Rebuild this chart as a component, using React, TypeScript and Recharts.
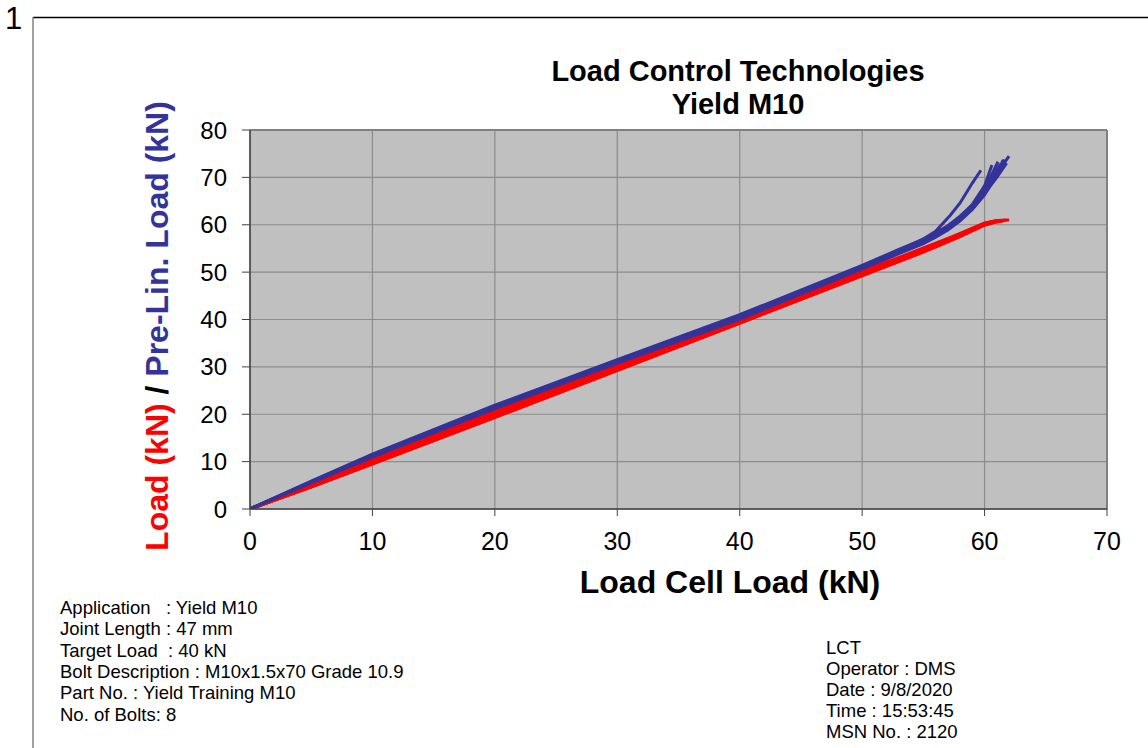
import { LineChart, Line, XAxis, YAxis, CartesianGrid, ReferenceLine, Label } from "recharts";

// load cell reading (kN) per bolt, with the measured load and the pre-linearised load
const loadCell1 = [0, 5, 10, 20, 30, 40, 50, 53, 55, 56, 57.2, 58, 59, 59.7];
const load1 = [0, 4.9, 9.9, 19.9, 29.8, 39.8, 49.8, 52.7, 54.6, 55.6, 57.0, 58.0, 59.1, 59.9];
const preLin1 = [0, 5.7, 11.3, 21.6, 31.2, 40.6, 51.2, 54.6, 57.0, 58.6, 62.0, 64.6, 68.8, 71.5];

const loadCell2 = [0, 5, 10, 20, 30, 40, 50, 53, 55, 56, 57, 58, 59, 60, 60.6];
const load2 = [0, 4.7, 9.6, 19.5, 29.4, 39.3, 49.3, 52.3, 54.4, 55.5, 56.6, 57.8, 59.0, 60.1, 60.6];
const preLin2 = [0, 5.5, 11.0, 21.3, 30.9, 40.2, 50.9, 54.3, 56.3, 57.7, 59.3, 61.4, 64.3, 68.2, 72.6];

const loadCell3 = [0, 5, 10, 20, 30, 40, 50, 53, 55, 56, 57, 58, 59, 60, 61.1];
const load3 = [0, 5.0, 10.1, 20.3, 30.1, 40.1, 50.0, 52.9, 54.9, 55.9, 56.9, 58.0, 59.1, 60.3, 60.9];
const preLin3 = [0, 5.8, 11.5, 21.8, 31.4, 40.9, 51.3, 54.6, 56.7, 58.0, 59.5, 61.5, 64.0, 67.5, 73.3];

const loadCell4 = [0, 5, 10, 20, 30, 40, 50, 53, 55, 56, 57, 58, 59, 60, 61, 61.5];
const load4 = [0, 4.6, 9.5, 19.3, 29.2, 39.2, 49.2, 52.2, 54.2, 55.3, 56.4, 57.5, 58.7, 59.9, 60.6, 60.8];
const preLin4 = [0, 5.4, 10.9, 21.1, 30.7, 39.9, 50.6, 53.9, 56.0, 57.4, 58.9, 60.8, 63.2, 66.3, 70.6, 73.6];

const loadCell5 = [0, 5, 10, 20, 30, 40, 50, 53, 55, 56, 57, 58, 59, 60, 61, 62];
const load5 = [0, 5.1, 10.3, 20.6, 30.4, 40.3, 50.2, 53.1, 55.1, 56.1, 57.1, 58.2, 59.3, 60.4, 60.9, 61.0];
const preLin5 = [0, 5.9, 11.6, 21.9, 31.5, 41.0, 51.4, 54.8, 56.9, 58.3, 59.8, 61.8, 64.2, 67.3, 70.8, 74.5];

const loadCell6 = [0, 5, 10, 20, 30, 40, 50, 53, 55, 56, 57, 58, 59, 60, 61, 61.8];
const load6 = [0, 4.8, 9.8, 19.7, 29.6, 39.6, 49.6, 52.6, 54.6, 55.6, 56.7, 57.8, 58.9, 60.1, 60.8, 61.0];
const preLin6 = [0, 5.6, 11.1, 21.4, 31.0, 40.4, 50.9, 54.3, 56.4, 57.8, 59.3, 61.2, 63.6, 66.6, 70.0, 73.0];

const loadCell7 = [0, 5, 10, 20, 30, 40, 50, 53, 55, 56, 57, 58, 59, 60, 61.3];
const load7 = [0, 4.9, 10.0, 20.0, 29.9, 39.9, 49.9, 52.8, 54.8, 55.8, 56.8, 57.9, 59.0, 60.2, 60.8];
const preLin7 = [0, 5.6, 11.2, 21.5, 31.1, 40.6, 51.1, 54.5, 56.5, 57.9, 59.5, 61.6, 64.1, 67.3, 72.8];

const loadCell8 = [0, 5, 10, 20, 30, 40, 50, 53, 55, 56, 57, 58, 59, 60, 61, 61.6];
const load8 = [0, 4.7, 9.7, 19.5, 29.5, 39.5, 49.5, 52.5, 54.5, 55.5, 56.5, 57.6, 58.8, 60.0, 60.7, 60.9];
const preLin8 = [0, 5.5, 11.0, 21.2, 30.8, 40.1, 50.7, 54.0, 56.1, 57.5, 59.1, 61.0, 63.4, 66.5, 70.4, 73.8];

const xTicks = [0, 10, 20, 30, 40, 50, 60, 70];
const yTicks = [0, 10, 20, 30, 40, 50, 60, 70, 80];

const infoLeft = [
  "Application   : Yield M10",
  "Joint Length : 47 mm",
  "Target Load  : 40 kN",
  "Bolt Description : M10x1.5x70 Grade 10.9",
  "Part No. : Yield Training M10",
  "No. of Bolts: 8",
];
const infoRight = ["LCT", "Operator : DMS", "Date : 9/8/2020", "Time : 15:53:45", "MSN No. : 2120"];

const bolts = [
  [loadCell1, load1, preLin1],
  [loadCell2, load2, preLin2],
  [loadCell3, load3, preLin3],
  [loadCell4, load4, preLin4],
  [loadCell5, load5, preLin5],
  [loadCell6, load6, preLin6],
  [loadCell7, load7, preLin7],
  [loadCell8, load8, preLin8],
];

const RED = "#ff0000";
const BLUE = "#333399";
const FONT = "'Liberation Sans', Arial, sans-serif";

const toPoints = (xs: number[], ys: number[]) => xs.map((x, i) => ({ x, y: ys[i] }));

export default function App() {
  return (
    <div style={{ position: "absolute", left: 0, top: 0, width: 1148, height: 748, background: "#fff" }}>
      <LineChart width={1148} height={748} margin={{ top: 130, right: 41, bottom: 199, left: 190 }}>
        <CartesianGrid stroke="#8c8c8c" strokeWidth={1.2} fill="#c0c0c0" fillOpacity={1} />
        <XAxis
          type="number"
          dataKey="x"
          domain={[0, 70]}
          ticks={xTicks}
          height={40}
          tickSize={7}
          tickMargin={16}
          tick={{ fill: "#000", fontSize: 25, fontFamily: FONT }}
          axisLine={{ stroke: "#404040", strokeWidth: 1.5 }}
          tickLine={{ stroke: "#404040" }}
          allowDataOverflow
        >
          <Label
            content={() => (
              <text x={730} y={593} textAnchor="middle" fontSize={32} fontWeight="bold" fontFamily={FONT} fill="#000">
                Load Cell Load (kN)
              </text>
            )}
          />
        </XAxis>
        <YAxis
          type="number"
          dataKey="y"
          domain={[0, 80]}
          ticks={yTicks}
          width={60}
          tickSize={8}
          tickMargin={15}
          tick={{ fill: "#000", fontSize: 24, fontFamily: FONT }}
          axisLine={{ stroke: "#404040", strokeWidth: 1.5 }}
          tickLine={{ stroke: "#404040" }}
          allowDataOverflow
        >
          <Label
            content={() => (
              <text
                x={168}
                y={326}
                transform="rotate(-90, 168, 326)"
                textAnchor="middle"
                fontSize={32}
                fontWeight="bold"
                fontFamily={FONT}
              >
                <tspan fill={RED}>Load (kN)</tspan>
                <tspan fill="#000"> / </tspan>
                <tspan fill={BLUE}>Pre-Lin. Load (kN)</tspan>
              </text>
            )}
          />
        </YAxis>
        <ReferenceLine y={80} stroke="#808080" strokeWidth={2} />
        <ReferenceLine x={70} stroke="#808080" strokeWidth={2} />
        {bolts.map(([xs, red, blue], i) => [
          <Line
            key={`load${i}`}
            data={toPoints(xs, red)}
            dataKey="y"
            stroke={RED}
            strokeWidth={3}
            dot={false}
            type="linear"
            isAnimationActive={false}
          />,
          <Line
            key={`prelin${i}`}
            data={toPoints(xs, blue)}
            dataKey="y"
            stroke={BLUE}
            strokeWidth={3}
            dot={false}
            type="linear"
            isAnimationActive={false}
          />,
        ])}
      </LineChart>

      <svg width={1148} height={748} style={{ position: "absolute", left: 0, top: 0, pointerEvents: "none" }}>
        <text x={5} y={29} fontSize={31} fontFamily={FONT} fill="#000">1</text>
        <line x1={33} y1={17.5} x2={1148} y2={17.5} stroke="#000" strokeWidth={1.5} />
        <line x1={33} y1={17} x2={33} y2={748} stroke="#808080" strokeWidth={1.5} />

        <text x={738} y={81} textAnchor="middle" fontSize={29} fontWeight="bold" fontFamily={FONT} fill="#000">
          Load Control Technologies
        </text>
        <text x={738} y={114} textAnchor="middle" fontSize={29} fontWeight="bold" fontFamily={FONT} fill="#000">
          Yield M10
        </text>

        {infoLeft.map((t, i) => (
          <text key={t} x={60} y={614 + i * 21.3} fontSize={18.5} fontFamily={FONT} fill="#000" style={{ whiteSpace: "pre" }}>
            {t}
          </text>
        ))}
        {infoRight.map((t, i) => (
          <text key={t} x={826} y={654 + i * 21} fontSize={18.5} fontFamily={FONT} fill="#000">
            {t}
          </text>
        ))}
      </svg>
    </div>
  );
}
